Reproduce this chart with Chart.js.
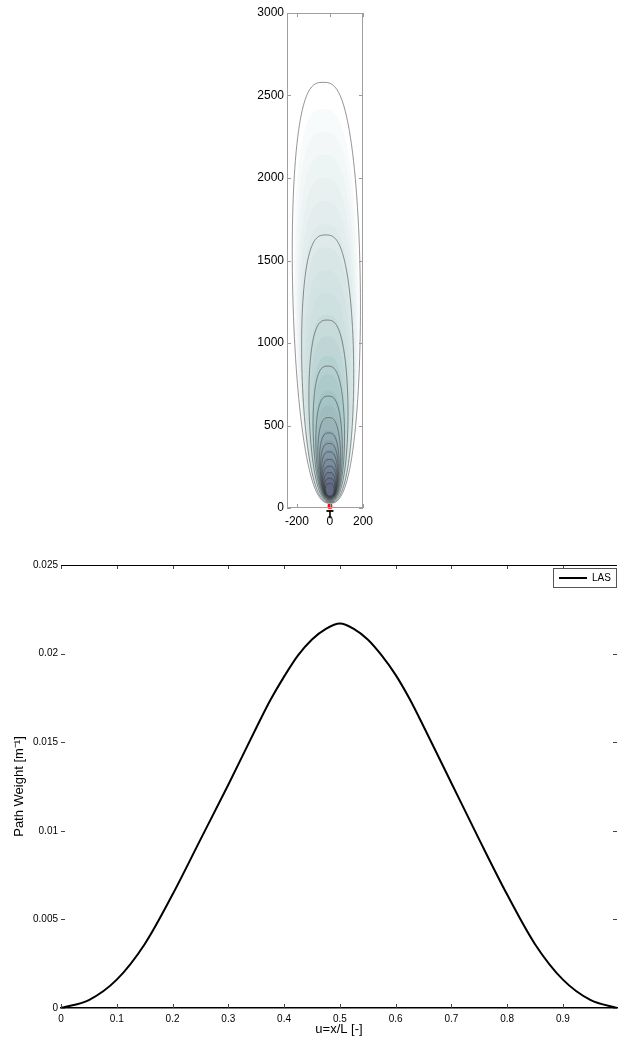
<!DOCTYPE html>
<html>
<head>
<meta charset="utf-8">
<script src="https://cdn.jsdelivr.net/npm/chart.js@4/dist/chart.umd.min.js"></script>
<style>
  html, body { margin: 0; padding: 0; background: #fff; width: 619px; height: 1040px; overflow: hidden; }
  canvas { position: absolute; left: 0; }
  #footprint { top: 0; }
  #weight { top: 540px; }
</style>
</head>
<body>
<canvas id="footprint" width="619" height="540"></canvas>
<canvas id="weight" width="619" height="500"></canvas>
<script>
// ---------- footprint map: contour lines (upwind distance vs crosswind distance, m) ----------
const contourTop       = [2580, 1655, 1139, 860, 678, 548, 455, 391, 340, 294, 253, 215, 180, 150];
const contourHalfWidth = [205, 157, 118, 95, 80, 69, 60, 54, 49, 44, 40, 35, 31, 26];
const contourTipX      = [-41, -26, -17, -13, -10, -8, -7, -6, -5, -4, -3, -3, -2, -2];
const contourBase      = [28, 32, 36, 40, 44, 48, 52, 55, 58, 61, 64, 67, 70, 73];

// filled levels of the footprint surface
const fillTop       = [2420, 2280, 2140, 2000, 1860, 1720, 1580, 1440, 1300, 1170, 1040, 920, 810, 710, 620, 540, 470, 410, 355, 305, 260, 220, 185, 150];
const fillHalfWidth = [196, 188, 180, 172, 165, 160, 152, 143, 132, 120, 110, 100, 92, 84, 77, 70, 64, 59, 54, 49, 44, 39, 34, 29];
const fillTipX      = [-39, -36, -34, -32, -30, -27, -25, -23, -21, -18, -16, -14, -12, -10, -9, -8, -7, -6, -5, -4, -3, -3, -2, -2];
const fillBase      = [30, 31, 32, 33, 34, 35, 36, 37, 38, 40, 42, 44, 46, 48, 50, 52, 54, 56, 58, 60, 62, 64, 66, 68];
const fillColors    = ['#f8fbfb', '#f3f7f7', '#edf4f4', '#e8f0f0', '#e3eded', '#deeaea', '#d8e6e6', '#d3e3e3',
                       '#cee0e0', '#c7dbdb', '#bed6d6', '#b5d0d0', '#adcbcb', '#a5c4c5', '#a0bcbf', '#9ab5ba',
                       '#92abb2', '#8aa1ab', '#8298a4', '#7b8e9d', '#738496', '#6c7a8f', '#667188', '#606a82'];

const sourcePoint = [{ x: 0, y: 10 }];
const towerMark   = [{ x: 0, y: -18 }, { x: 0, y: -62 }];

const footprintXTicks = [-200, 0, 200];
const footprintYTicks = [0, 500, 1000, 1500, 2000, 2500, 3000];

// ---------- path weighting function ----------
const uValues = [0, 0.05, 0.1, 0.15, 0.2, 0.25, 0.3, 0.35, 0.375, 0.4, 0.425, 0.45, 0.475, 0.5,
                 0.525, 0.55, 0.575, 0.6, 0.625, 0.65, 0.7, 0.75, 0.8, 0.85, 0.9, 0.95, 0.997];
const lasWeight = [0, 0.00045, 0.0016, 0.0036, 0.0064, 0.0095, 0.0126, 0.0158, 0.01735, 0.0187, 0.0199, 0.0208, 0.0214, 0.0217,
                   0.0214, 0.0208, 0.0199, 0.0188, 0.01745, 0.0159, 0.0127, 0.0095, 0.0064, 0.0036, 0.0016, 0.00044, 0];
const weightXTicks = [0, 0.1, 0.2, 0.3, 0.4, 0.5, 0.6, 0.7, 0.8, 0.9];
const weightXLabels = ['0', '0.1', '0.2', '0.3', '0.4', '0.5', '0.6', '0.7', '0.8', '0.9'];
const weightYTicks = [0, 0.005, 0.01, 0.015, 0.02, 0.025];
const weightYLabels = ['0', '0.005', '0.01', '0.015', '0.02', '0.025'];

const FONT = "'Liberation Sans', Arial, Helvetica, sans-serif";

// teardrop outline of one level, from its base, top, widest half-width and lean of the top
const EXP_LOW = 0.4, EXP_HIGH = 0.35;
const SHAPE_PEAK = (() => { const s = EXP_LOW / (EXP_LOW + EXP_HIGH); return Math.pow(s, EXP_LOW) * Math.pow(1 - s, EXP_HIGH); })();
function outline(base, top, halfWidth, tipX) {
  const N = 60, left = [], right = [];
  for (let k = 0; k <= N; k++) {
    const s = (1 - Math.cos(Math.PI * k / N)) / 2;
    const h = halfWidth * Math.pow(s, EXP_LOW) * Math.pow(1 - s, EXP_HIGH) / SHAPE_PEAK;
    const cx = tipX * s;
    const y = base + (top - base) * s;
    left.push({ x: cx - h, y });
    right.push({ x: cx + h, y });
  }
  return left.concat(right.reverse());
}

// tick marks drawn inward from the plot frame
function innerTickPlugin(id, opts) {
  return {
    id,
    afterDatasetsDraw(chart) {
      const { ctx, chartArea: a, scales } = chart;
      ctx.save();
      ctx.strokeStyle = opts.color;
      ctx.lineWidth = 1;
      ctx.beginPath();
      scales.x.ticks.forEach(t => {
        const px = Math.round(scales.x.getPixelForValue(t.value)) + 0.5;
        ctx.moveTo(px, a.bottom); ctx.lineTo(px, a.bottom - opts.len);
        ctx.moveTo(px, a.top); ctx.lineTo(px, a.top + opts.len);
      });
      scales.y.ticks.forEach(t => {
        const py = Math.round(scales.y.getPixelForValue(t.value)) + 0.5;
        ctx.moveTo(a.left, py); ctx.lineTo(a.left + opts.len, py);
        ctx.moveTo(a.right, py); ctx.lineTo(a.right - opts.len, py);
      });
      ctx.stroke();
      if (opts.box) {
        ctx.strokeStyle = opts.box;
        ctx.strokeRect(a.left + 0.5, a.top + 0.5, a.right - a.left - 1, a.bottom - a.top - 1);
      }
      if (opts.topLine) {
        ctx.strokeStyle = opts.topLine;
        ctx.beginPath();
        ctx.moveTo(a.left, a.top + 0.5); ctx.lineTo(a.right, a.top + 0.5);
        ctx.stroke();
      }
      ctx.restore();
    }
  };
}

// ---------- chart 1: footprint ----------
// a tiny tension keeps Chart.js on the full path routine, so closed outlines are traced point by point
const OUTLINE_TENSION = 0.0001;
const footprintSets = [];
fillTop.forEach((top, i) => {
  footprintSets.push({
    data: outline(fillBase[i], top, fillHalfWidth[i], fillTipX[i]),
    backgroundColor: fillColors[i],
    borderColor: 'transparent',
    borderWidth: 0,
    pointRadius: 0,
    fill: 'shape',
    tension: OUTLINE_TENSION,
    order: 500 - i
  });
});
contourTop.forEach((top, i) => {
  footprintSets.push({
    data: outline(contourBase[i], top, contourHalfWidth[i], contourTipX[i]),
    borderColor: 'rgba(55,55,55,0.62)',
    borderWidth: 0.9,
    pointRadius: 0,
    fill: false,
    tension: OUTLINE_TENSION,
    order: 100 - i
  });
});
footprintSets.push({
  data: towerMark,
  borderColor: '#000',
  borderWidth: 1.6,
  pointRadius: [3.5, 0],
  pointStyle: 'line',
  pointBorderColor: '#000',
  pointBorderWidth: 1.8,
  fill: false,
  clip: false,
  order: 1
});
footprintSets.push({
  data: sourcePoint,
  showLine: false,
  pointStyle: 'rect',
  pointRadius: 2.6,
  backgroundColor: '#ff0000',
  borderColor: '#ff0000',
  clip: false,
  order: 0
});

new Chart(document.getElementById('footprint'), {
  type: 'line',
  data: { datasets: footprintSets },
  options: {
    responsive: false,
    animation: false,
    devicePixelRatio: 1,
    layout: { padding: { left: 0, right: 256, top: 13, bottom: 0 } },
    plugins: { legend: { display: false }, tooltip: { enabled: false } },
    scales: {
      x: {
        type: 'linear', min: -260, max: 200,
        afterBuildTicks: s => { s.ticks = footprintXTicks.map(v => ({ value: v })); },
        afterFit: s => { s.height = 32; },
        ticks: { font: { family: FONT, size: 12 }, color: '#000', padding: 6, maxRotation: 0, callback: v => String(v) },
        grid: { display: false, drawTicks: false },
        border: { display: false }
      },
      y: {
        type: 'linear', min: 0, max: 3000,
        afterBuildTicks: s => { s.ticks = footprintYTicks.map(v => ({ value: v })); },
        afterFit: s => { s.width = 287; },
        ticks: { font: { family: FONT, size: 12 }, color: '#000', padding: 3, callback: v => String(v) },
        grid: { display: false, drawTicks: false },
        border: { display: false }
      }
    }
  },
  plugins: [innerTickPlugin('footprintFrame', { color: '#9a9a9a', len: 4, box: '#a0a0a0' })]
});

// ---------- chart 2: path weighting function ----------
const legendBox = {
  id: 'legendBox',
  afterDraw(chart) {
    const { ctx } = chart;
    const ds = chart.data.datasets[0];
    ctx.save();
    ctx.fillStyle = '#fff';
    ctx.fillRect(553, 28, 64, 19);
    ctx.strokeStyle = '#555';
    ctx.lineWidth = 1;
    ctx.strokeRect(553.5, 28.5, 63, 19);
    ctx.strokeStyle = ds.borderColor;
    ctx.lineWidth = 2;
    ctx.beginPath();
    ctx.moveTo(559, 38); ctx.lineTo(587, 38);
    ctx.stroke();
    ctx.fillStyle = '#000';
    ctx.font = '10px ' + FONT;
    ctx.textBaseline = 'middle';
    ctx.fillText(ds.label, 592, 38.5);
    ctx.restore();
  }
};

new Chart(document.getElementById('weight'), {
  type: 'line',
  data: {
    datasets: [{
      label: 'LAS',
      data: uValues.map((u, i) => ({ x: u, y: lasWeight[i] })),
      borderColor: '#000',
      borderWidth: 2,
      pointRadius: 0,
      fill: false,
      cubicInterpolationMode: 'monotone',
      clip: false
    }]
  },
  options: {
    responsive: false,
    animation: false,
    devicePixelRatio: 1,
    layout: { padding: { left: 0, right: 2, top: 25, bottom: 0 } },
    plugins: { legend: { display: false }, tooltip: { enabled: false } },
    scales: {
      x: {
        type: 'linear', min: 0, max: 0.997,
        afterBuildTicks: s => { s.ticks = weightXTicks.map(v => ({ value: v })); },
        afterFit: s => { s.height = 32; },
        ticks: {
          font: { family: FONT, size: 10 }, color: '#000', padding: 5, maxRotation: 0,
          callback: (v, i) => weightXLabels[i]
        },
        title: { display: true, text: 'u=x/L [-]', font: { family: FONT, size: 13 }, color: '#000', padding: { top: 0, bottom: 3 } },
        grid: { display: false, drawTicks: false },
        border: { display: true, color: '#000', width: 1.5 }
      },
      y: {
        type: 'linear', min: 0, max: 0.025,
        afterBuildTicks: s => { s.ticks = weightYTicks.map(v => ({ value: v })); },
        afterFit: s => { s.width = 61; },
        ticks: {
          font: { family: FONT, size: 10 }, color: '#000', padding: 3,
          callback: (v, i) => weightYLabels[i]
        },
        title: { display: true, text: 'Path Weight [m⁻¹]', font: { family: FONT, size: 13 }, color: '#000', padding: { top: 12, bottom: 0 } },
        grid: { display: false, drawTicks: false },
        border: { display: false }
      }
    }
  },
  plugins: [innerTickPlugin('weightFrame', { color: '#444', len: 4, topLine: '#000' }), legendBox]
});
</script>
</body>
</html>
